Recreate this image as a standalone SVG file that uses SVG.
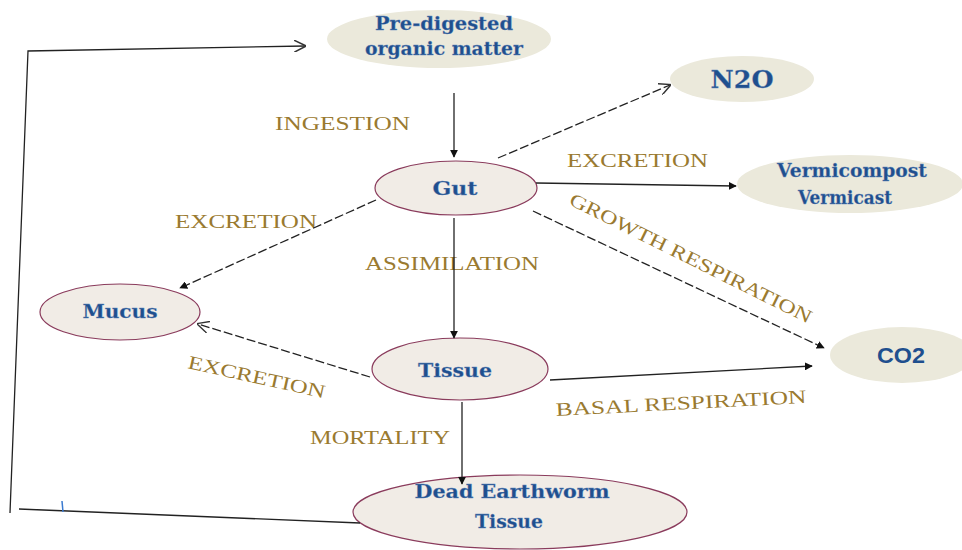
<svg xmlns="http://www.w3.org/2000/svg" width="962" height="550" viewBox="0 0 962 550">
<style>
.n1{fill:#ebe9db;stroke:none}
.n2{fill:#f1ece6;stroke:#8a3b5c;stroke-width:1.2}
.t{font-family:"DejaVu Serif","Liberation Serif",serif;font-weight:bold;fill:#1f4f8e;stroke:#6d8fbf;stroke-width:0.3;text-anchor:middle}
.s{font-family:"Liberation Sans","DejaVu Sans",sans-serif;font-weight:bold;fill:#1f4f8e;text-anchor:middle}
.l{font-family:"Liberation Serif","DejaVu Serif",serif;fill:#9a7a30;font-size:19px}
.c{fill:none;stroke:#222;stroke-width:1.3}
.d{stroke-dasharray:9 3}
</style>
<defs>
<marker id="a" viewBox="0 0 10 10" refX="9" refY="5" markerWidth="8" markerHeight="8" orient="auto" markerUnits="userSpaceOnUse"><path d="M0,0 L10,5 L0,10 z" fill="#111"/></marker>
<marker id="o" viewBox="0 0 10 10" refX="9" refY="5" markerWidth="12" markerHeight="12" orient="auto" markerUnits="userSpaceOnUse"><path d="M0,0 L10,5 L0,10" fill="none" stroke="#333" stroke-width="1.2"/></marker>
</defs>
<rect width="962" height="550" fill="#fff"/>
<g id="labels">
<text class="l" x="275" y="130" textLength="135" lengthAdjust="spacingAndGlyphs">INGESTION</text>
<text class="l" x="567" y="167" textLength="141" lengthAdjust="spacingAndGlyphs">EXCRETION</text>
<text class="l" x="175" y="228" textLength="142" lengthAdjust="spacingAndGlyphs">EXCRETION</text>
<text class="l" x="365" y="270" textLength="174" lengthAdjust="spacingAndGlyphs">ASSIMILATION</text>
<text class="l" transform="translate(568,204) rotate(26.5)" textLength="268" lengthAdjust="spacingAndGlyphs">GROWTH RESPIRATION</text>
<text class="l" transform="translate(187,368) rotate(12.5)" textLength="140" lengthAdjust="spacingAndGlyphs">EXCRETION</text>
<text class="l" transform="translate(556,416) rotate(-3)" textLength="251" lengthAdjust="spacingAndGlyphs">BASAL RESPIRATION</text>
<text class="l" x="310" y="444" textLength="140" lengthAdjust="spacingAndGlyphs">MORTALITY</text>
</g>
<g id="predigested">
<ellipse class="n1" cx="439" cy="39" rx="112" ry="29"/>
<text class="t" font-size="18" x="444" y="30" textLength="138" lengthAdjust="spacingAndGlyphs">Pre-digested</text>
<text class="t" font-size="18" x="444" y="55" textLength="158" lengthAdjust="spacingAndGlyphs">organic matter</text>
</g>
<g id="n2o">
<ellipse class="n1" cx="742" cy="79" rx="72" ry="23"/>
<text class="t" font-size="25" x="742" y="88" textLength="63" lengthAdjust="spacingAndGlyphs">N2O</text>
</g>
<g id="vermicompost">
<ellipse class="n1" cx="850" cy="184" rx="113" ry="29"/>
<text class="t" font-size="18" x="852" y="177" textLength="150" lengthAdjust="spacingAndGlyphs">Vermicompost</text>
<text class="t" font-size="18" x="845" y="204" textLength="94" lengthAdjust="spacingAndGlyphs">Vermicast</text>
</g>
<g id="gut">
<ellipse class="n2" cx="456" cy="188" rx="81" ry="27"/>
<text class="t" font-size="19" x="455" y="195" textLength="45" lengthAdjust="spacingAndGlyphs">Gut</text>
</g>
<g id="mucus">
<ellipse class="n2" cx="120" cy="312" rx="80" ry="28"/>
<text class="t" font-size="19" x="120" y="318" textLength="75" lengthAdjust="spacingAndGlyphs">Mucus</text>
</g>
<g id="tissue">
<ellipse class="n2" cx="460" cy="369" rx="88" ry="31"/>
<text class="t" font-size="19" x="455" y="377" textLength="74" lengthAdjust="spacingAndGlyphs">Tissue</text>
</g>
<g id="co2">
<ellipse class="n1" cx="902" cy="355" rx="72" ry="28"/>
<text class="s" font-size="22" x="901" y="363" textLength="48" lengthAdjust="spacingAndGlyphs">CO2</text>
</g>
<g id="dead">
<ellipse class="n2" cx="520" cy="512" rx="167" ry="37"/>
<text class="t" font-size="19" x="512" y="498" textLength="195" lengthAdjust="spacingAndGlyphs">Dead Earthworm</text>
<text class="t" font-size="19" x="509" y="528" textLength="68" lengthAdjust="spacingAndGlyphs">Tissue</text>
</g>
<g id="connectors">
<polyline class="c" points="360,523 19,509"/>
<polyline class="c" points="10,513 28,51 305,46" marker-end="url(#o)"/>
<line x1="62" y1="501" x2="63" y2="512" stroke="#3a7ad0" stroke-width="1.5"/>
<line class="c" x1="454" y1="93" x2="454" y2="157" marker-end="url(#a)"/>
<line class="c d" x1="498" y1="158" x2="670" y2="85" marker-end="url(#o)"/>
<line class="c" x1="536" y1="183" x2="736" y2="186" marker-end="url(#a)"/>
<line class="c d" x1="533" y1="211" x2="824" y2="348" marker-end="url(#a)"/>
<line class="c d" x1="376" y1="200" x2="180" y2="288" marker-end="url(#a)"/>
<line class="c" x1="454" y1="218" x2="454" y2="338" marker-end="url(#a)"/>
<line class="c d" x1="370" y1="377" x2="198" y2="324" marker-end="url(#o)"/>
<line class="c" x1="550" y1="380" x2="812" y2="366" marker-end="url(#a)"/>
<line class="c" x1="462" y1="402" x2="462" y2="484" marker-end="url(#a)"/>
</g>
</svg>
